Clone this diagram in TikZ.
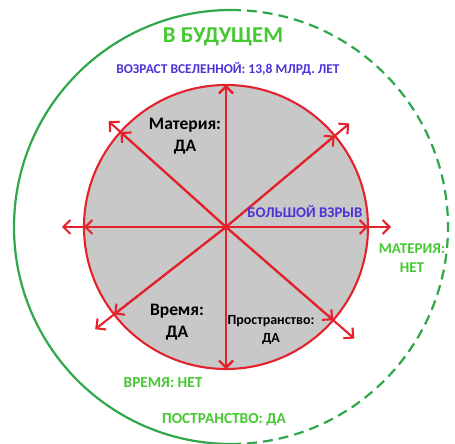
\documentclass[tikz,border=0pt]{standalone}
\usepackage{fontspec}
\setmainfont{Carlito}[BoldFont={Carlito Bold}]
\usetikzlibrary{arrows.meta,calc}
\definecolor{ringgreen}{RGB}{46,168,74}
\definecolor{textgreen}{RGB}{70,200,50}
\definecolor{textblue}{RGB}{80,50,215}
\definecolor{bangred}{RGB}{228,34,44}
\definecolor{ballgray}{RGB}{200,200,200}
\tikzset{
  ray/.style={bangred, line width=2.1pt, -{Straight Barb[length=7pt,width=14pt,line width=2.1pt]}},
  greenlabel/.style={textgreen, font=\bfseries\fontsize{15.3}{18}\selectfont, align=center},
  darklabel/.style={black, font=\bfseries\fontsize{17.5}{22}\selectfont, align=center}
}
\begin{document}
\begin{tikzpicture}[x=1pt,y=1pt]
\useasboundingbox (0,0) rectangle (455,444);

% outer ring: solid on the left, dashed on the right
\draw[ringgreen, line width=2.2pt] (231,217) ++(90:217) arc[start angle=90, end angle=270, radius=217];
\draw[ringgreen, line width=2.2pt, dash pattern=on 10pt off 6pt] (231,217) ++(-90:217) arc[start angle=-90, end angle=90, radius=217];

% the ball
\draw[bangred, line width=2.1pt, fill=ballgray] (226,217) circle[radius=142];
\coordinate (bang) at (226,217);

% rays
\foreach \ang/\len in {90/142, 270/142, 180/164, 0/165, 138/158, 40/161, 218/166, 319/170}{
  \coordinate (edge\ang) at ($(bang)+(\ang:142)$);
  \coordinate (end\ang) at ($(bang)+(\ang:\len)$);
  \draw[ray] (bang) -- (edge\ang);
  \draw[ray] (bang) -- (end\ang);
}

\node[textgreen, font=\bfseries\fontsize{22.7}{26}\selectfont] (future) at (223,407) {В БУДУЩЕМ};
\node[textblue, font=\bfseries\fontsize{13.5}{16}\selectfont] (age) at (228,375) {ВОЗРАСТ ВСЕЛЕННОЙ: 13,8 МЛРД. ЛЕТ};
\node[textblue, font=\bfseries\fontsize{14.8}{17}\selectfont] (bigbang) at (305,232) {БОЛЬШОЙ ВЗРЫВ};

\node[darklabel] (matter) at (185,308) {Материя:\\ДА};
\node[darklabel] (time) at (177,122) {Время:\\ДА};
\node[black, font=\bfseries\fontsize{14}{18}\selectfont, align=center] (space) at (271,114) {Пространство:\\ДА};

\node[greenlabel, font=\bfseries\fontsize{15}{19}\selectfont] (nomatter) at (412,186) {МАТЕРИЯ:\\НЕТ};
\node[greenlabel] (notime) at (163,61) {ВРЕМЯ: НЕТ};
\node[greenlabel] (yesspace) at (224,24) {ПОСТРАНСТВО: ДА};
\end{tikzpicture}
\end{document}
